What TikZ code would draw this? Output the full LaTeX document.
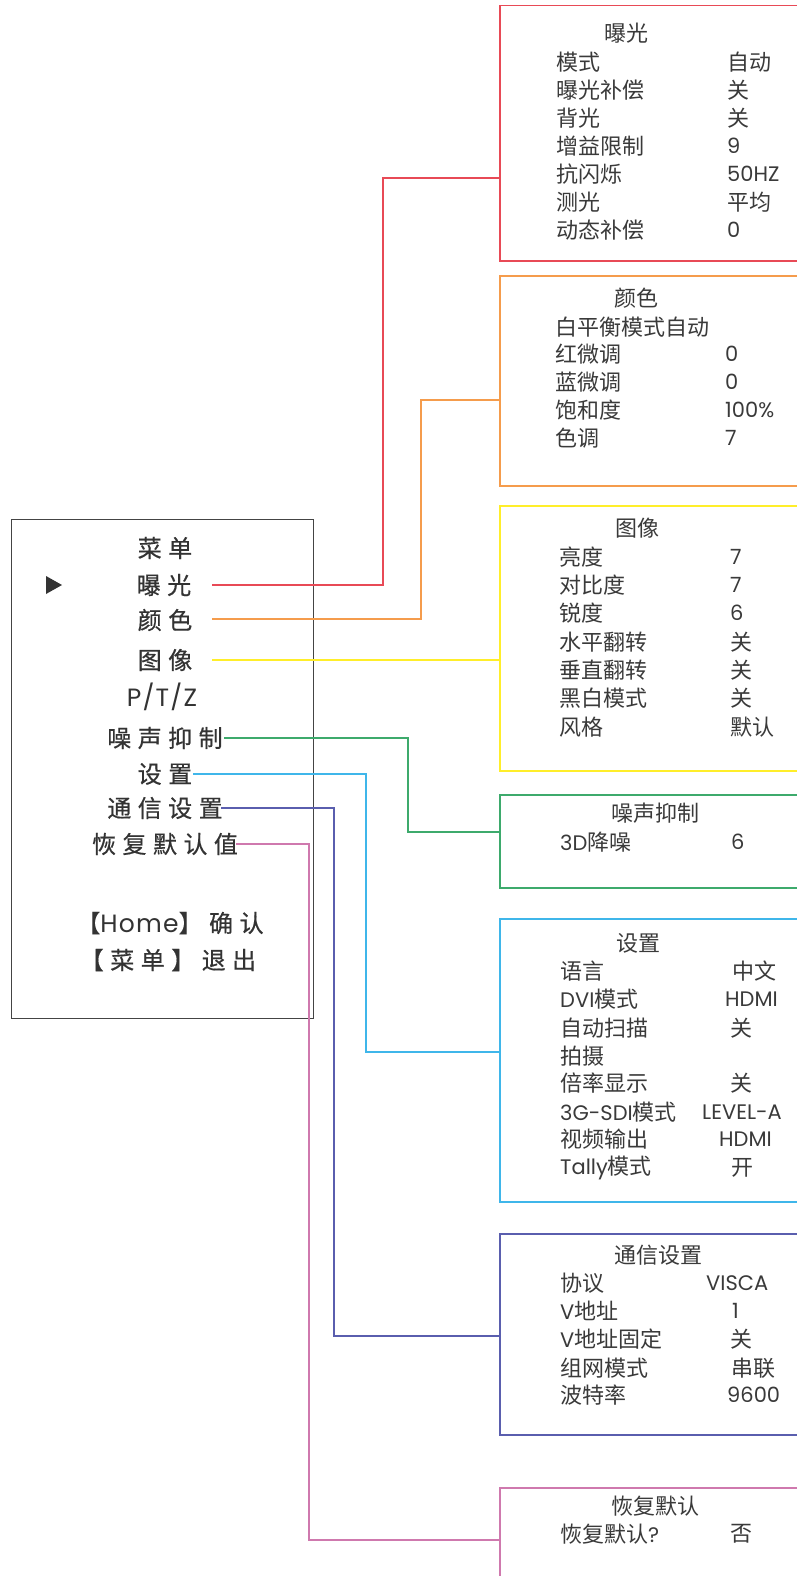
\documentclass[tikz,border=0pt]{standalone}
\usepackage{fontspec}
\setmainfont{Noto Sans CJK SC}
\newfontfamily\lat{Poppins}
\newfontfamily\menufont{Noto Sans CJK SC}[LetterSpace=27,FakeBold=0.5]
\newfontfamily\menulat{Poppins}[LetterSpace=5]
\definecolor{cred}{HTML}{E84A56}
\definecolor{corange}{HTML}{F59C4C}
\definecolor{cyellow}{HTML}{FFEE2A}
\definecolor{cgreen}{HTML}{3DAA6C}
\definecolor{cblue}{HTML}{3FB6EA}
\definecolor{cpurple}{HTML}{5A5EAE}
\definecolor{cpink}{HTML}{CF79AE}
\definecolor{txt}{HTML}{333333}
\definecolor{txtb}{HTML}{3A3A3A}
\definecolor{frame}{HTML}{444444}
\newcommand{\ml}[1]{{\fontsize{25}{25}\selectfont\menulat #1}}
\newcommand{\bl}[1]{{\fontsize{21}{21}\selectfont\lat #1}}
\begin{document}
\begin{tikzpicture}[x=1pt,y=-1pt,
  menubox/.style={draw=frame,line width=1.4pt,inner sep=0,anchor=north west},
  mitem/.style={font=\fontsize{24}{24}\selectfont\menufont,text=txt,inner sep=0},
  subbox/.style={draw=#1,line width=1.5pt,inner sep=0,anchor=north west,minimum width=330},
  bhead/.style={font=\fontsize{22}{22}\selectfont,text=txtb,inner sep=0},
  btxt/.style={font=\fontsize{22}{22}\selectfont,text=txtb,inner sep=0,anchor=west},
  conn/.style={draw=#1,line width=1.3pt}]
\useasboundingbox (0,0) rectangle (797,1576);
\clip (0,0) rectangle (797,1576);
\fill[white] (0,0) rectangle (797,1576);

% left menu
\node[menubox,minimum width=302,minimum height=499] (menu) at (11,519) {};
\node[mitem] (mt) at (165,548) {菜单};
\node[mitem] (m1) at (164,585) {曝光};
\node[mitem] (m2) at (165,620) {颜色};
\node[mitem] (m3) at (165,660) {图像};
\node[mitem] (m4) at (162,697) {\ml{P/T/Z}};
\node[mitem] (m5) at (165,738) {噪声抑制};
\node[mitem] (m6) at (165,774) {设置};
\node[mitem] (m7) at (165,808) {通信设置};
\node[mitem] (m8) at (165,844) {恢复默认值};
\node[mitem] (ok) at (170,923) {【\ml{Home}】确认};
\node[mitem] (ex) at (168,960) {【菜单】退出};
\fill[txt] (46,576) -- (46,594) -- (62,585) -- cycle;

% right boxes
\node[subbox=cred,minimum height=255] (b1) at (499,5) {};
\node[subbox=corange,minimum height=210] (b2) at (499,275) {};
\node[subbox=cyellow,minimum height=265] (b3) at (499,505) {};
\node[subbox=cgreen,minimum height=93] (b4) at (499,794) {};
\node[subbox=cblue,minimum height=283] (b5) at (499,918) {};
\node[subbox=cpurple,minimum height=201] (b6) at (499,1233) {};
\node[subbox=cpink,minimum height=130] (b7) at (499,1487) {};

% box 1
\node[bhead] (h1) at (626,33) {曝光};
\node[btxt] (l11) at (556,62) {模式};      \node[btxt] (v11) at (727,62) {自动};
\node[btxt] (l12) at (556,90) {曝光补偿};  \node[btxt] (v12) at (727,90) {关};
\node[btxt] (l13) at (556,118) {背光};     \node[btxt] (v13) at (727,118) {关};
\node[btxt] (l14) at (556,146) {增益限制}; \node[btxt] (v14) at (727,146) {\bl{9}};
\node[btxt] (l15) at (556,174) {抗闪烁};   \node[btxt] (v15) at (727,174) {\bl{50HZ}};
\node[btxt] (l16) at (556,202) {测光};     \node[btxt] (v16) at (727,202) {平均};
\node[btxt] (l17) at (556,230) {动态补偿}; \node[btxt] (v17) at (727,230) {\bl{0}};

% box 2
\node[bhead] (h2) at (636,298) {颜色};
\node[btxt] (l21) at (555,327) {白平衡模式自动};
\node[btxt] (l22) at (555,354) {红微调}; \node[btxt] (v22) at (725,354) {\bl{0}};
\node[btxt] (l23) at (555,382) {蓝微调}; \node[btxt] (v23) at (725,382) {\bl{0}};
\node[btxt] (l24) at (555,410) {饱和度}; \node[btxt] (v24) at (725,410) {\bl{100\%}};
\node[btxt] (l25) at (555,438) {色调};   \node[btxt] (v25) at (725,438) {\bl{7}};

% box 3
\node[bhead] (h3) at (637,528) {图像};
\node[btxt] (l31) at (559,557) {亮度};     \node[btxt] (v31) at (730,557) {\bl{7}};
\node[btxt] (l32) at (559,585) {对比度};   \node[btxt] (v32) at (730,585) {\bl{7}};
\node[btxt] (l33) at (559,613) {锐度};     \node[btxt] (v33) at (730,613) {\bl{6}};
\node[btxt] (l34) at (559,642) {水平翻转}; \node[btxt] (v34) at (730,642) {关};
\node[btxt] (l35) at (559,670) {垂直翻转}; \node[btxt] (v35) at (730,670) {关};
\node[btxt] (l36) at (559,698) {黑白模式}; \node[btxt] (v36) at (730,698) {关};
\node[btxt] (l37) at (559,727) {风格};     \node[btxt] (v37) at (730,727) {默认};

% box 4
\node[bhead] (h4) at (655,813) {噪声抑制};
\node[btxt] (l41) at (560,842) {\bl{3D}降噪}; \node[btxt] (v41) at (731,842) {\bl{6}};

% box 5
\node[bhead] (h5) at (638,943) {设置};
\node[btxt] (l51) at (560,971) {语言};        \node[btxt] (v51) at (732,971) {中文};
\node[btxt] (l52) at (560,999) {\bl{DVI}模式};     \node[btxt] (v52) at (725,999) {\bl{HDMI}};
\node[btxt] (l53) at (560,1028) {自动扫描};   \node[btxt] (v53) at (730,1028) {关};
\node[btxt] (l54) at (560,1056) {拍摄};
\node[btxt] (l55) at (560,1083) {倍率显示};   \node[btxt] (v55) at (730,1083) {关};
\node[btxt] (l56) at (560,1112) {\bl{3G-SDI}模式}; \node[btxt] (v56) at (702,1112) {\bl{LEVEL-A}};
\node[btxt] (l57) at (560,1139) {视频输出};   \node[btxt] (v57) at (719,1139) {\bl{HDMI}};
\node[btxt] (l58) at (560,1168) {\bl{Tally}模式};  \node[btxt] (v58) at (731,1168) {开};

% box 6
\node[bhead] (h6) at (658,1255) {通信设置};
\node[btxt] (l61) at (560,1283) {协议};       \node[btxt] (v61) at (706,1283) {\bl{VISCA}};
\node[btxt] (l62) at (560,1311) {\bl{V}地址};      \node[btxt] (v62) at (732,1311) {\bl{1}};
\node[btxt] (l63) at (560,1339) {\bl{V}地址固定};  \node[btxt] (v63) at (730,1339) {关};
\node[btxt] (l64) at (560,1368) {组网模式};   \node[btxt] (v64) at (731,1368) {串联};
\node[btxt] (l65) at (560,1395) {波特率};     \node[btxt] (v65) at (727,1395) {\bl{9600}};

% box 7
\node[bhead] (h7) at (655,1506) {恢复默认};
\node[btxt] (l71) at (560,1534) {恢复默认\bl{?}}; \node[btxt] (v71) at (730,1534) {否};

% connector coordinates
\coordinate (s1) at (212,585);  \coordinate (k1) at (383,178);
\coordinate (s2) at (212,619);  \coordinate (k2) at (421,400);
\coordinate (s3) at (212,660);
\coordinate (s4) at (224,738);  \coordinate (k4) at (408,832);
\coordinate (s5) at (193,774);  \coordinate (k5) at (366,1052);
\coordinate (s6) at (221,808);  \coordinate (k6) at (334,1336);
\coordinate (s7) at (236,844);  \coordinate (k7) at (309,1540);

\draw[conn=cred]    (s1) -| (k1) -- (k1 -| b1.west);
\draw[conn=corange] (s2) -| (k2) -- (k2 -| b2.west);
\draw[conn=cyellow] (s3) -- (s3 -| b3.west);
\draw[conn=cgreen]  (s4) -| (k4) -- (k4 -| b4.west);
\draw[conn=cblue]   (s5) -| (k5) -- (k5 -| b5.west);
\draw[conn=cpurple] (s6) -| (k6) -- (k6 -| b6.west);
\draw[conn=cpink]   (s7) -| (k7) -- (k7 -| b7.west);
\end{tikzpicture}
\end{document}
